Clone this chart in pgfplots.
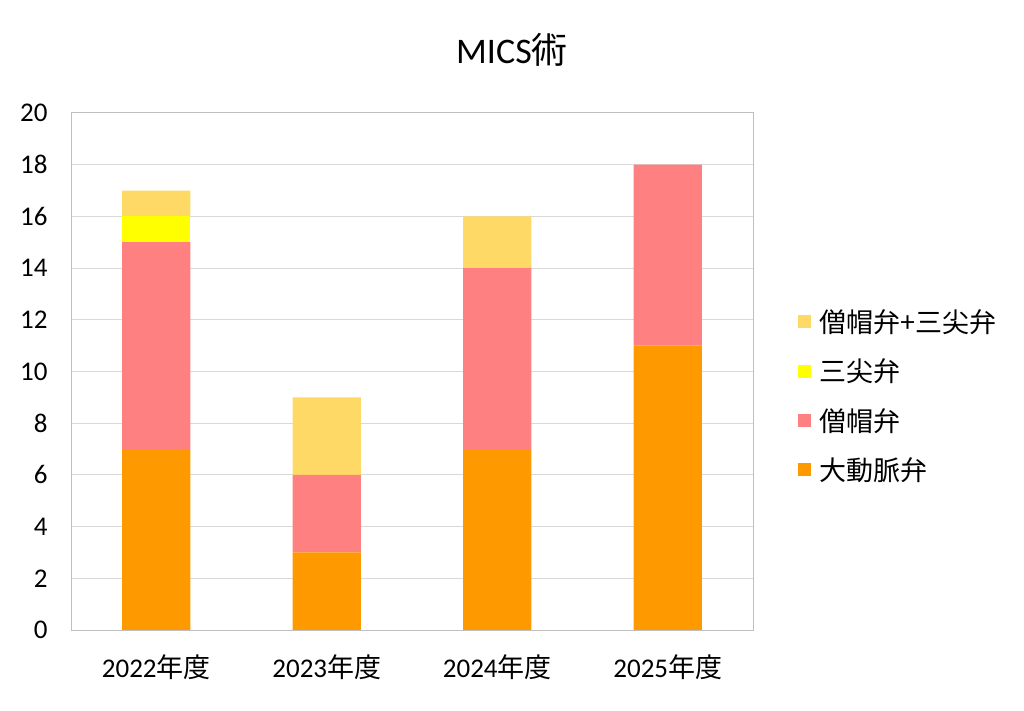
\documentclass[border=0pt]{standalone}
\usepackage{pgfplots}
\pgfplotsset{compat=1.18}
\usepackage{fontspec}
\setmainfont{Carlito}
\newfontfamily\cjk{Noto Sans CJK JP}
\definecolor{cAor}{HTML}{FF9900}
\definecolor{cMit}{HTML}{FF8080}
\definecolor{cTri}{HTML}{FFFF00}
\definecolor{cMT}{HTML}{FFD966}
\definecolor{axgray}{HTML}{BFBFBF}
\definecolor{grgray}{HTML}{D9D9D9}
\begin{document}
\begin{tikzpicture}
\useasboundingbox (0,0) rectangle (1024bp,711bp);
\node[font=\fontsize{36bp}{40bp}\selectfont] at (512bp,661bp) {MICS{\cjk 術}};
\begin{axis}[
  at={(71bp,81bp)}, anchor=south west,
  scale only axis, width=682bp, height=517bp,
  ybar stacked, bar width=0.4,
  xmin=-0.5, xmax=3.5, ymin=0, ymax=20,
  ytick={0,2,...,20},
  xtick={0,1,2,3},
  xticklabels={2022{\cjk 年度},2023{\cjk 年度},2024{\cjk 年度},2025{\cjk 年度}},
  /pgf/number format/assume math mode=true,
  tick style={draw=none},
  ymajorgrids, grid style={grgray, line width=1bp},
  axis line style={axgray, line width=1bp},
  ticklabel style={font=\fontsize{27bp}{31bp}\selectfont},
  yticklabel style={xshift=-20bp},
  xticklabel style={yshift=-21bp},
  legend style={at={(1.062,0.453)}, anchor=west, draw=none, fill=none,
    font=\fontsize{27bp}{31bp}\selectfont\cjk, row sep=21bp},
  legend cell align=left,
  reverse legend,
  legend image code/.code={\fill[#1] (0bp,-6.5bp) rectangle (13bp,6.5bp); \path (19bp,0bp);},
]
\addplot+[draw=none, fill=cAor] coordinates {(0,7) (1,3) (2,7) (3,11)};
\addplot+[draw=none, fill=cMit] coordinates {(0,8) (1,3) (2,7) (3,7)};
\addplot+[draw=none, fill=cTri] coordinates {(0,1) (1,0) (2,0) (3,0)};
\addplot+[draw=none, fill=cMT] coordinates {(0,1) (1,3) (2,2) (3,0)};
\legend{大動脈弁,僧帽弁,三尖弁,僧帽弁+三尖弁}
\end{axis}
\end{tikzpicture}
\end{document}
